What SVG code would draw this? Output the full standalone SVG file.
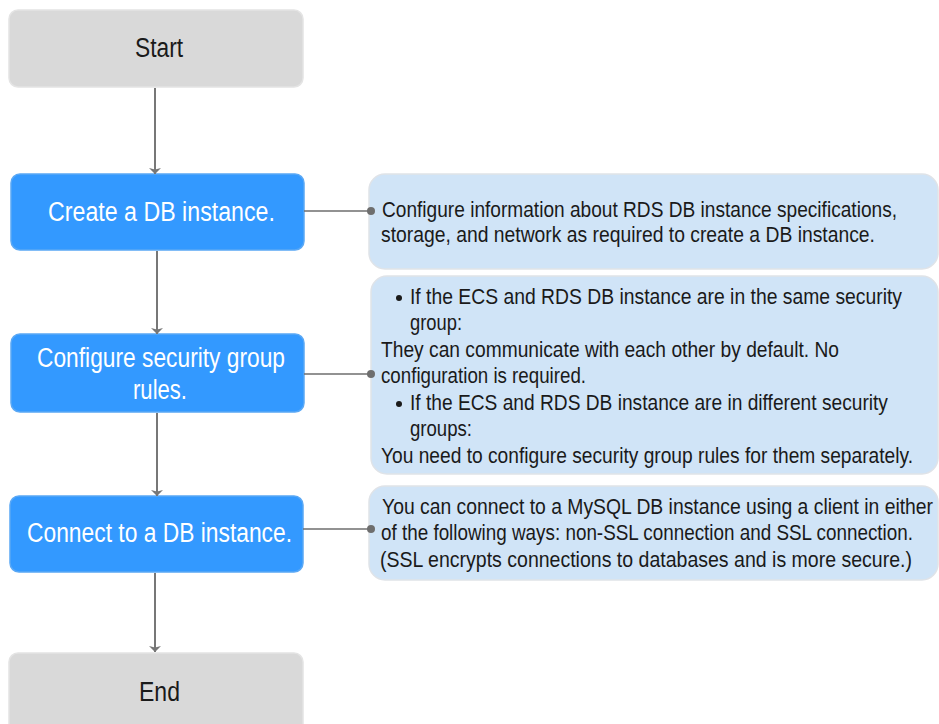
<svg xmlns="http://www.w3.org/2000/svg" width="939" height="724" viewBox="0 0 939 724">
  <defs>
    <marker id="arrow" viewBox="0 0 6 12" refX="6" refY="6" markerWidth="6" markerHeight="12" markerUnits="userSpaceOnUse" orient="auto">
      <path d="M0,0 L6,6 L0,12 L1.5,6 Z" fill="#777777"/>
    </marker>
    <style>
      text { font-family: "Liberation Sans", Arial, sans-serif; }
      .term rect { fill: #d9d9d9; stroke: #e4e4e4; stroke-width: 1.5; }
      .step rect { fill: #3399ff; stroke: #5aa8f5; stroke-width: 1.5; }
      .note rect { fill: #d0e4f7; stroke: #dfe3e8; stroke-width: 1.5; }
      .term text { font-size: 27px; fill: #1a1a1a; }
      .step text { font-size: 27px; fill: #ffffff; }
      .note text { font-size: 22px; fill: #1a1a1a; }
      .flow { stroke: #777777; stroke-width: 2; fill: none; }
      .link { stroke: #6e6e6e; stroke-width: 1.6; fill: none; }
      .dot { fill: #6e6e6e; }
    </style>
  </defs>

  <!-- flow steps (labels use a horizontally condensed face) -->
  <g id="start" class="term">
    <rect x="9" y="10" width="294" height="77" rx="9"/>
    <text transform="translate(135 57) scale(0.85 1)" textLength="56.5" lengthAdjust="spacingAndGlyphs">Start</text>
  </g>
  <g id="create" class="step">
    <rect x="11" y="174" width="293" height="76" rx="9"/>
    <text transform="translate(48 221) scale(0.85 1)" textLength="267" lengthAdjust="spacingAndGlyphs">Create a DB instance.</text>
  </g>
  <g id="configure" class="step">
    <rect x="11" y="334" width="293" height="78" rx="9"/>
    <text transform="translate(37 367) scale(0.85 1)" textLength="291.8" lengthAdjust="spacingAndGlyphs">Configure security group</text>
    <text transform="translate(133 399) scale(0.85 1)" textLength="63.5" lengthAdjust="spacingAndGlyphs">rules.</text>
  </g>
  <g id="connect" class="step">
    <rect x="10" y="496" width="293" height="76" rx="9"/>
    <text transform="translate(27 542) scale(0.85 1)" textLength="311.8" lengthAdjust="spacingAndGlyphs">Connect to a DB instance.</text>
  </g>
  <g id="end" class="term">
    <rect x="9" y="653" width="294" height="80" rx="9"/>
    <text transform="translate(139 701) scale(0.85 1)" textLength="48.2" lengthAdjust="spacingAndGlyphs">End</text>
  </g>

  <!-- notes -->
  <g id="note-create" class="note">
    <rect x="369" y="174" width="569" height="95" rx="16"/>
    <g transform="translate(381 0) scale(0.86 1)">
      <text x="1.2" y="217" textLength="598.8" lengthAdjust="spacingAndGlyphs">Configure information about RDS DB instance specifications,</text>
      <text x="0" y="242" textLength="574.4" lengthAdjust="spacingAndGlyphs">storage, and network as required to create a DB instance.</text>
    </g>
  </g>
  <g id="note-security" class="note">
    <rect x="371" y="276" width="567" height="198" rx="16"/>
    <circle cx="399" cy="298" r="3" fill="#1a1a1a"/>
    <circle cx="399" cy="404" r="3" fill="#1a1a1a"/>
    <g transform="translate(381 0) scale(0.86 1)">
      <text x="33.7" y="304" textLength="572.1" lengthAdjust="spacingAndGlyphs">If the ECS and RDS DB instance are in the same security</text>
      <text x="33.7" y="330.5" textLength="60.5" lengthAdjust="spacingAndGlyphs">group:</text>
      <text x="0" y="357" textLength="532.6" lengthAdjust="spacingAndGlyphs">They can communicate with each other by default. No</text>
      <text x="0" y="383.5" textLength="238.4" lengthAdjust="spacingAndGlyphs">configuration is required.</text>
      <text x="33.7" y="410" textLength="555.8" lengthAdjust="spacingAndGlyphs">If the ECS and RDS DB instance are in different security</text>
      <text x="33.7" y="436.5" textLength="72.1" lengthAdjust="spacingAndGlyphs">groups:</text>
      <text x="0" y="463" textLength="618.6" lengthAdjust="spacingAndGlyphs">You need to configure security group rules for them separately.</text>
    </g>
  </g>
  <g id="note-connect" class="note">
    <rect x="369" y="486" width="569" height="94" rx="16"/>
    <g transform="translate(381 0) scale(0.86 1)">
      <text x="1.2" y="514" textLength="640.7" lengthAdjust="spacingAndGlyphs">You can connect to a MySQL DB instance using a client in either</text>
      <text x="0" y="540.5" textLength="618.6" lengthAdjust="spacingAndGlyphs">of the following ways: non-SSL connection and SSL connection.</text>
      <text x="-1.2" y="567" textLength="618.6" lengthAdjust="spacingAndGlyphs">(SSL encrypts connections to databases and is more secure.)</text>
    </g>
  </g>

  <!-- connectors, drawn last so the end dots sit on top of the notes -->
  <g id="connectors">
    <line class="flow" x1="155" y1="88" x2="155" y2="174" marker-end="url(#arrow)"/>
    <line class="flow" x1="157" y1="251" x2="157" y2="334" marker-end="url(#arrow)"/>
    <line class="flow" x1="157" y1="413" x2="157" y2="496" marker-end="url(#arrow)"/>
    <line class="flow" x1="155" y1="573" x2="155" y2="652" marker-end="url(#arrow)"/>
    <line class="link" x1="304" y1="211" x2="370" y2="211"/>
    <circle class="dot" cx="371" cy="211" r="4"/>
    <line class="link" x1="304" y1="374" x2="370" y2="374"/>
    <circle class="dot" cx="371" cy="374" r="4"/>
    <line class="link" x1="303" y1="529" x2="370" y2="529"/>
    <circle class="dot" cx="371" cy="529" r="4"/>
  </g>
</svg>
